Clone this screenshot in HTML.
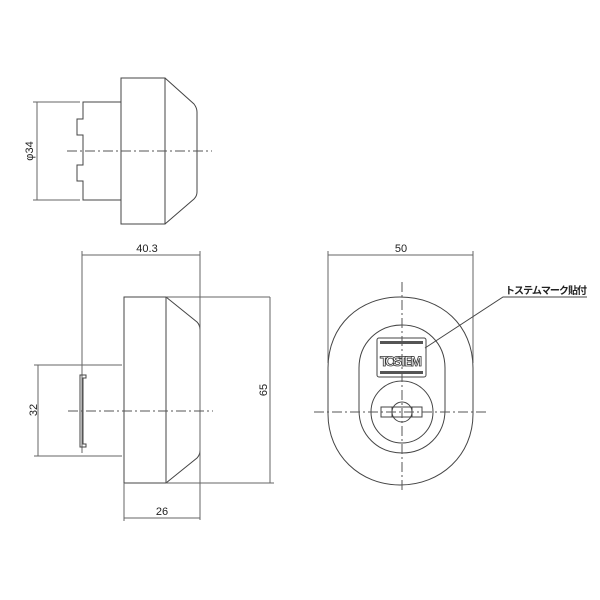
<!DOCTYPE html>
<html><head><meta charset="utf-8"><style>body{margin:0;background:#fff}svg{display:block}</style></head><body>
<svg width="600" height="600" viewBox="0 0 600 600" xmlns="http://www.w3.org/2000/svg" fill="none" stroke="#444" stroke-width="1" font-family="Liberation Sans, Noto Sans CJK JP, sans-serif">
<!-- top view -->
<rect x="121" y="78" width="44" height="146"/>
<path d="M165 78 L194 104 Q197 108 197 112 L197 192 Q197 196 194 199 L165 224"/>
<path d="M121 102 L83 102 L83 119 L77 119 L77 135 L83 135 L83 165 L77 165 L77 181 L83 181 L83 200 L121 200"/>
<path d="M37 102 V200 M33 102 H80 M33 200 H80" stroke="#666"/>
<path d="M67 151 H212" stroke-dasharray="10 3 2 3" stroke="#555"/>
<text x="0" y="0" transform="translate(33,151) rotate(-90)" text-anchor="middle" font-size="11" fill="#222" stroke="none">φ34</text>
<!-- side view -->
<rect x="124" y="297" width="42" height="186"/>
<path d="M166 297 L197 322 Q200 325 200 330 L200 450 Q200 455 197 458 L166 483"/>
<path d="M166 297 H270 M166 483 H274 M270 297 V483" stroke="#666"/>
<path d="M82 255 H200 M82 251 V453 M200 251 V520 M124 483 V521 M124 518 H200" stroke="#666"/>
<path d="M38 365 V456 M34 365 H122 M34 456 H122" stroke="#666"/>
<path d="M80 375 H86 V378 H83 V444 H86 V447 H80 Z"/>
<path d="M68 411 H213" stroke-dasharray="10 3 2 3" stroke="#555"/>
<text x="147" y="252" text-anchor="middle" font-size="11" fill="#222" stroke="none">40.3</text>
<text x="162" y="515" text-anchor="middle" font-size="11" fill="#222" stroke="none">26</text>
<text transform="translate(267,390) rotate(-90)" text-anchor="middle" font-size="11" fill="#222" stroke="none">65</text>
<text transform="translate(37,410) rotate(-90)" text-anchor="middle" font-size="11" fill="#222" stroke="none">32</text>
<!-- front view -->
<path d="M328 255 H473 M328 251 V363 M473 251 V363" stroke="#666"/>
<text x="401" y="252" text-anchor="middle" font-size="11" fill="#222" stroke="none">50</text>
<path d="M328 368 C328 325 360 297 400 297 C441 297 473 325 473 368 V414 C473 455 441 485 400 485 C360 485 328 455 328 414 Z"/>
<path d="M359 368 C359 343 378 325 402 325 C426 325 445 343 445 368 V410 C445 435 426 453 402 453 C378 453 359 435 359 410 Z"/>
<circle cx="402" cy="412" r="31"/>
<circle cx="402" cy="412" r="10"/>
<rect x="381" y="407" width="41" height="10"/>
<path d="M392 407 V417 M412 407 V417"/>
<rect x="377" y="338" width="49" height="39" rx="2"/>
<rect x="380" y="341" width="43" height="3" fill="#555" stroke="none"/>
<rect x="380" y="371" width="43" height="3" fill="#555" stroke="none"/>
<text x="401" y="366" text-anchor="middle" font-size="14" font-weight="bold" fill="#fff" stroke="#333" stroke-width="0.8" textLength="42">TOSTEM</text>
<path d="M402 282 V490 M314 412 H487" stroke-dasharray="10 3 2 3" stroke="#555"/>
<path d="M425 348 L503 297 H587" stroke="#444"/>
<text x="505" y="294" font-size="10" font-weight="bold" fill="#222" stroke="none" textLength="82">トステムマーク貼付</text>
</svg>
</body></html>
